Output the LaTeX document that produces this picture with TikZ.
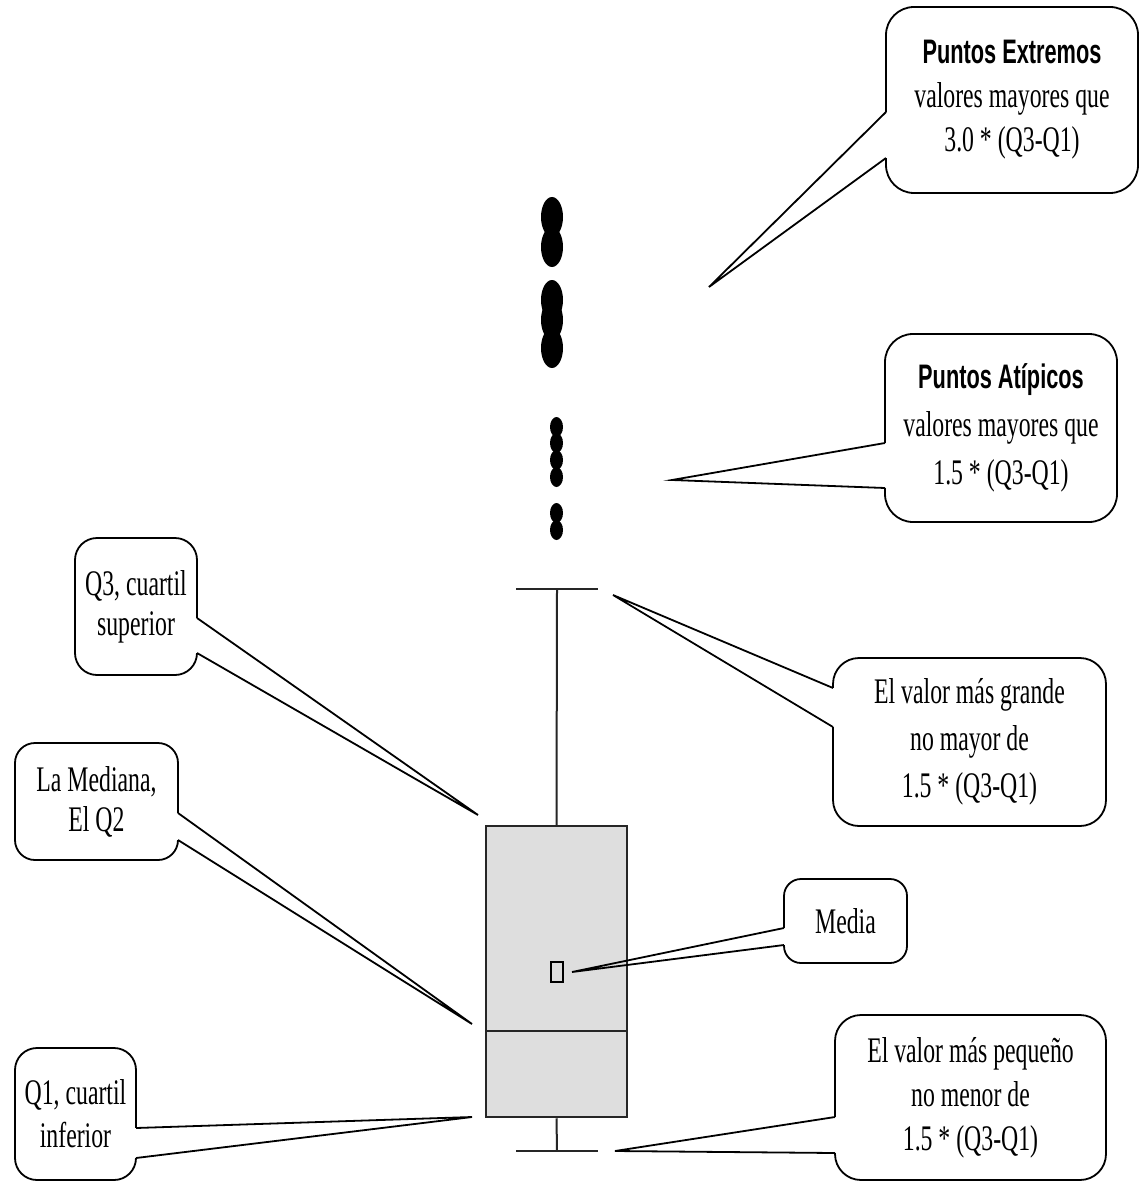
\documentclass[tikz,border=0pt]{standalone}
\usepackage{fontspec}
\setmainfont[FakeStretch=0.66]{Liberation Serif}
\newfontfamily\hdfont[FakeStretch=0.64]{Liberation Sans}
\begin{document}
\begin{tikzpicture}[x=1pt,y=-1pt,
  callbox/.style={draw=black, line width=1.8pt, fill=white, align=center,
    inner sep=0pt, font=\fontsize{36}{44}\selectfont},
  pointer/.style={draw=black, line width=1.8pt, line join=miter},
  plotline/.style={draw=black!85, line width=2.5pt},
]
\fill[white] (0,0) rectangle (1142,1182);
\useasboundingbox (0,0) rectangle (1142,1182);

% ---------- box plot ----------
\node[plotline, fill=black!13, minimum width=141, minimum height=291, inner sep=0pt] (box) at (556.5,971.5) {};
\coordinate (q2l) at (486,1031);
\coordinate (q2r) at (627,1031);
\draw[plotline] (q2l) -- (q2r);

\coordinate (wtop) at (557,589);
\coordinate (wbot) at (557,1151);
\draw[plotline, line width=2pt] (wtop) -- (box.north);
\draw[plotline, line width=2pt] (box.south) -- (wbot);
\coordinate (captl) at (516,589);
\coordinate (captr) at (598,589);
\coordinate (capbl) at (516,1151);
\coordinate (capbr) at (598,1151);
\draw[plotline] (captl) -- (captr);
\draw[plotline] (capbl) -- (capbr);

\node[draw=black, line width=1.5pt, minimum width=12, minimum height=20, inner sep=0pt] (mean) at (557,972) {};

% extreme points
\foreach \y in {217,247,300,320,348}
  \fill[black] (552,\y) ellipse [x radius=11, y radius=20];
% outliers
\foreach \y in {427,443,460,477,513,530}
  \fill[black] (556.5,\y) ellipse [x radius=6.5, y radius=10];

% ---------- callouts ----------
\node[callbox, minimum width=252, minimum height=186, rounded corners=28] (ext) at (1012,100)
  {{\hdfont\bfseries\fontsize{34}{44}\selectfont Puntos Extremos}\\ valores mayores que\\ 3.0 * (Q3-Q1)};
\coordinate (ext-a) at (886,112);
\coordinate (ext-b) at (886,158);
\coordinate (t-ext) at (709,287);

\node[callbox, minimum width=232, minimum height=188, rounded corners=28,
  font=\fontsize{36}{48}\selectfont] (atip) at (1001,428)
  {{\hdfont\bfseries\fontsize{34}{48}\selectfont Puntos Atípicos}\\ valores mayores que\\ 1.5 * (Q3-Q1)};
\coordinate (atip-a) at (885,443);
\coordinate (atip-b) at (885,488);
\coordinate (t-atip) at (672,480);

\node[callbox, minimum width=273, minimum height=168, rounded corners=26,
  font=\fontsize{36}{47}\selectfont] (grande) at (969.5,742)
  {El valor más grande\\ no mayor de\\ 1.5 * (Q3-Q1)};
\coordinate (grande-a) at (833,688);
\coordinate (grande-b) at (833,727);
\coordinate (t-grande) at (613,595);

\node[callbox, minimum width=123, minimum height=84, rounded corners=17] (media) at (845.5,921) {Media};
\coordinate (media-a) at (784,928);
\coordinate (media-b) at (784,945);
\coordinate (t-media) at (572,972);

\node[callbox, minimum width=271, minimum height=165, rounded corners=26] (peq) at (970.5,1097.5)
  {El valor más pequeño\\ no menor de\\ 1.5 * (Q3-Q1)};
\coordinate (peq-a) at (835,1117);
\coordinate (peq-b) at (835,1153);
\coordinate (t-peq) at (615,1151);

\node[callbox, minimum width=122, minimum height=137, rounded corners=22,
  font=\fontsize{36}{40}\selectfont] (q3) at (136,606.5)
  {Q3, cuartil\\ superior};
\coordinate (q3-a) at (197,618);
\coordinate (q3-b) at (197,653);
\coordinate (t-q3) at (478,815);

\node[callbox, minimum width=163, minimum height=117, rounded corners=20,
  font=\fontsize{36}{40}\selectfont] (med) at (96.5,801.5)
  {La Mediana,\\ El Q2};
\coordinate (med-a) at (178,813);
\coordinate (med-b) at (178,840);
\coordinate (t-med) at (472,1024);

\node[callbox, minimum width=121, minimum height=132, rounded corners=22,
  font=\fontsize{36}{43}\selectfont] (q1) at (75.5,1114)
  {Q1, cuartil\\ inferior};
\coordinate (q1-a) at (136,1128);
\coordinate (q1-b) at (136,1158);
\coordinate (t-q1) at (472,1117);

% open each border where its pointer leaves, then draw the pointer
\foreach \c in {ext,atip,grande,media,peq,q3,med,q1}{
  \fill[white] ([xshift=-3pt]\c-a) rectangle ([xshift=3pt]\c-b);
  \draw[pointer] (\c-a) -- (t-\c) -- (\c-b);
}
\end{tikzpicture}
\end{document}
